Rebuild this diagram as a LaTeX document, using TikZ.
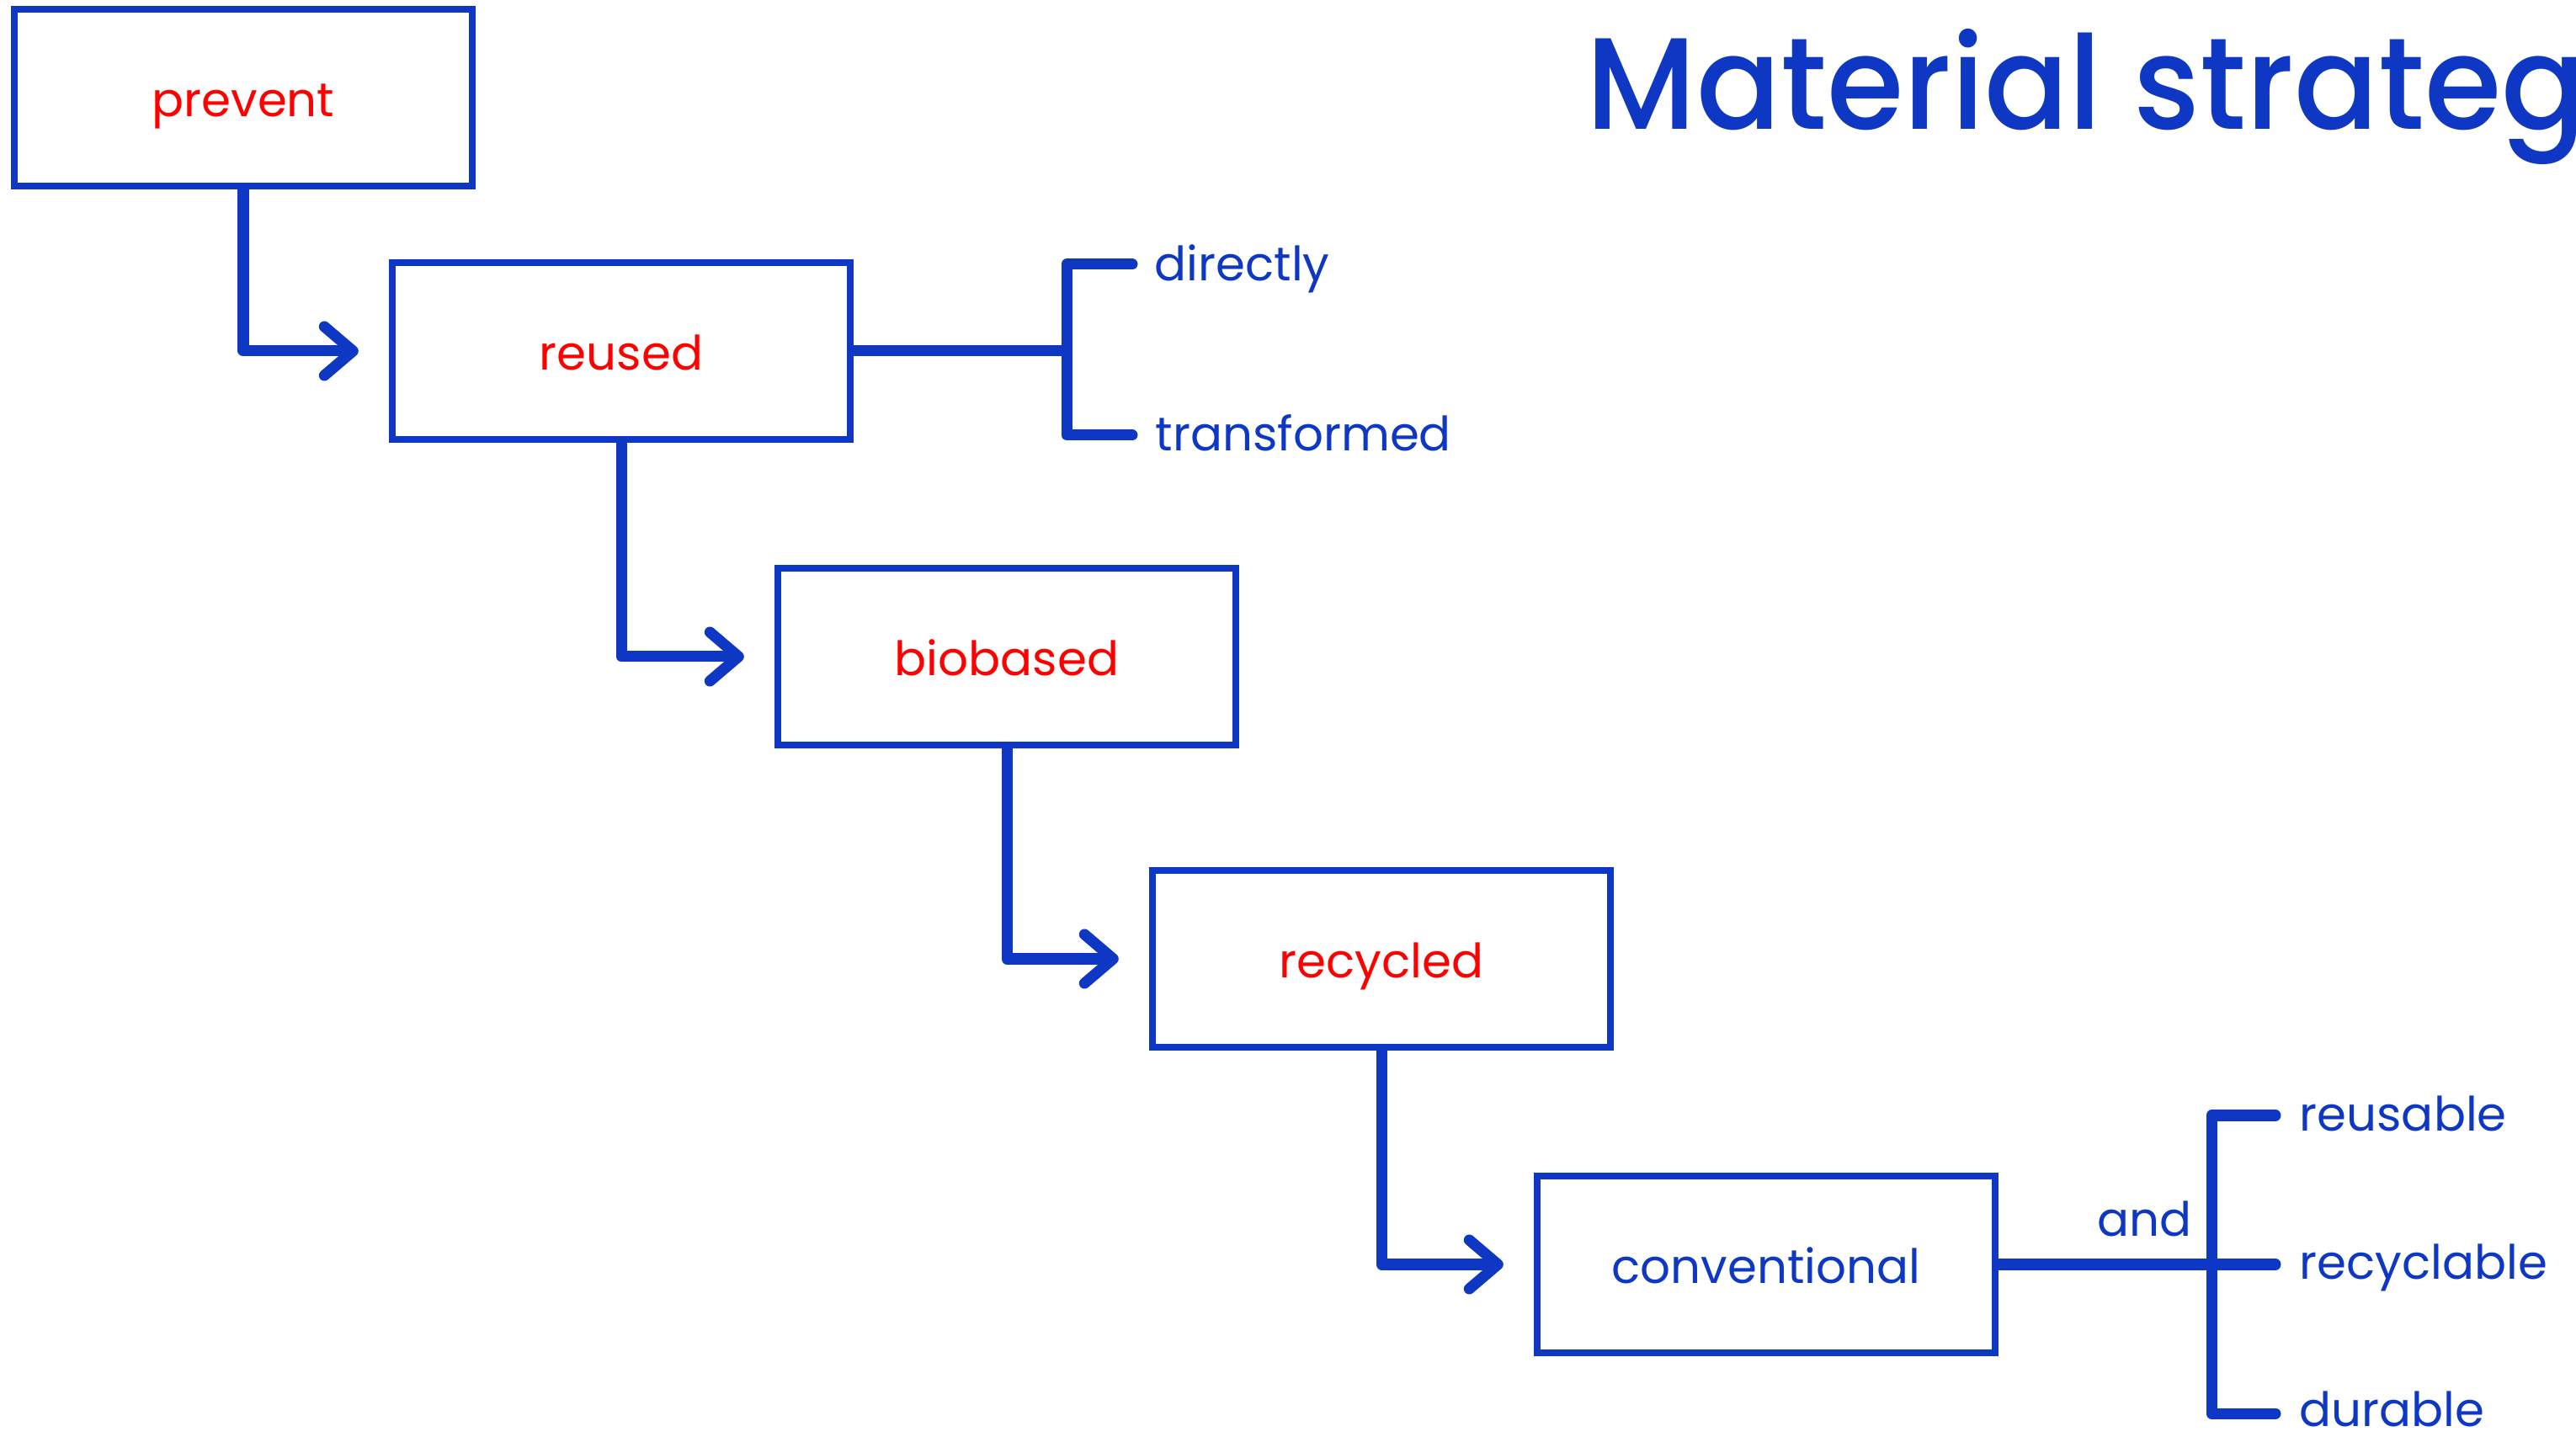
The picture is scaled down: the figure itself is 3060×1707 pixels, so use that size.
\documentclass[tikz,border=0pt]{standalone}
\usepackage{fontspec}
\setmainfont{Poppins}
\newfontfamily\titlefont{Poppins Medium}[FakeStretch=0.955]
\usetikzlibrary{arrows.meta}
\definecolor{myblue}{HTML}{0E38C4}
\definecolor{myred}{HTML}{FF0000}
\tikzset{
  stagebox/.style={draw=myblue, line width=0.08cm, minimum width=5.44cm, minimum height=2.10cm,
    inner sep=0pt, text height=13pt, text depth=0pt, font=\fontsize{16}{19}\selectfont},
  redtxt/.style={text=myred},
  bluetxt/.style={text=myblue},
  flow/.style={draw=myblue, line width=0.13cm, line join=round, line cap=round,
    -{Straight Barb[length=3.4mm,width=5.8mm,round]}, shorten >=0.36cm},
  brack/.style={draw=myblue, line width=0.13cm, line join=round, line cap=round},
  joinline/.style={draw=myblue, line width=0.13cm},
  side/.style={anchor=base west, inner sep=0pt, text=myblue, font=\fontsize{16}{19}\selectfont},
}
\begin{document}
\begin{tikzpicture}[x=0.01cm,y=-0.01cm]
\useasboundingbox (0,0) rectangle (3060,1707);
\clip (0,0) rectangle (3060,1707);
% title
\node[anchor=base west, inner sep=0pt, text=myblue, font=\titlefont\fontsize{44}{50}\selectfont] (title) at (1884,154) {Material strategy};
% boxes
\node[stagebox, redtxt] (prevent) at (289,116) {prevent};
\node[stagebox, redtxt] (reused) at (738,417) {reused};
\node[stagebox, redtxt] (biobased) at (1196,780) {biobased};
\node[stagebox, redtxt] (recycled) at (1641,1139) {recycled};
\node[stagebox, bluetxt] (conventional) at (2098,1502) {conventional};
% flow arrows
\draw[flow] (prevent.south) |- (reused.west);
\draw[flow] (reused.south) |- (biobased.west);
\draw[flow] (biobased.south) |- (recycled.west);
\draw[flow] (recycled.south) |- (conventional.west);
% reused bracket
\coordinate (rj) at (1267,417);
\coordinate (rt) at (1345,314);
\coordinate (rb) at (1345,517);
\draw[joinline] (reused.east) -- (rj);
\draw[brack] (rt) -| (rj) |- (rb);
\node[side] (directly) at (1371,334) {directly};
\node[side] (transformed) at (1372,536) {transformed};
% conventional bracket
\coordinate (cj) at (2627,1502);
\coordinate (ct) at (2703,1325);
\coordinate (cm) at (2703,1502);
\coordinate (cb) at (2703,1679);
\draw[joinline] (conventional.east) -- (cj);
\draw[brack] (ct) -| (cj) |- (cb);
\draw[brack] (cj) -- (cm);
\node[side, anchor=base east] (and) at (2604,1468) {and};
\node[side] (reusable) at (2731,1343) {reusable};
\node[side] (recyclable) at (2731,1519) {recyclable};
\node[side] (durable) at (2731,1694) {durable};
\end{tikzpicture}
\end{document}
